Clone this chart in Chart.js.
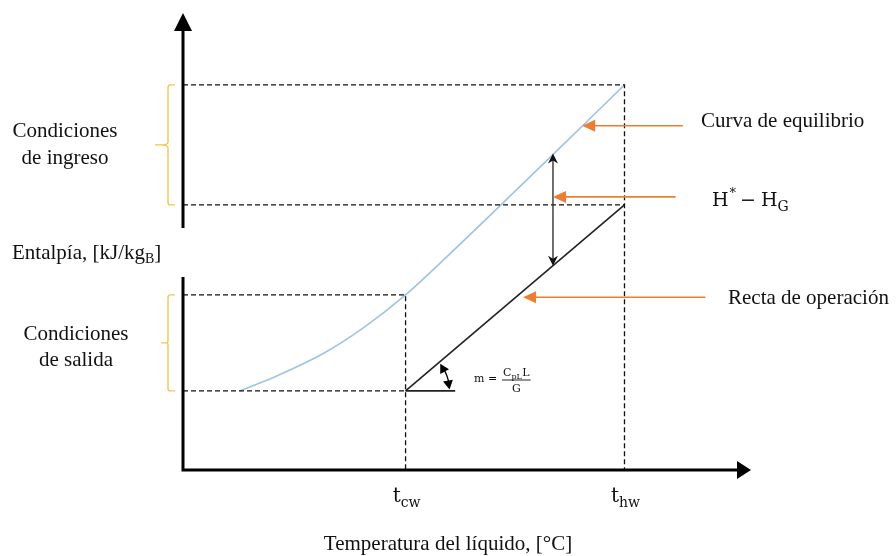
<!DOCTYPE html>
<html>
<head>
<meta charset="utf-8">
<script src="https://cdn.jsdelivr.net/npm/chart.js@4.4.1/dist/chart.umd.min.js"></script>
<style>
  html, body { margin: 0; padding: 0; background: #ffffff; }
  #wrap { width: 896px; height: 556px; }
</style>
</head>
<body>
<div id="wrap"><canvas id="diagram" width="896" height="556"></canvas></div>
<script>
// --- data (temperature in x, enthalpy in y; schematic units) ---
const tempValues = [30, 60];                       // t_cw, t_hw
const tempTickMain = ['t', 't'];
const tempTickSub = ['cw', 'hw'];
const enthalpyLevels = [16.8, 37.2, 56.3, 81.8];  // salida low/high, ingreso low/high

// equilibrium curve H* vs t
const eqCurveT = [7.3, 12.1, 18.9, 24.4, 30, 36, 43, 51, 60];
const eqCurveH = [16.8, 19.8, 24.9, 30.4, 37.2, 45.8, 56.2, 68.2, 81.8];

// operating line H_G vs t
const opLineT = [30, 60];
const opLineH = [16.8, 56.3];

// horizontal reference used to show the slope m
const slopeRefT = [30, 36.8];
const slopeRefH = [16.8, 16.8];

// driving force H* - H_G shown at one temperature
const forceT = 50.2;
const forceH = [43.4, 67.2];

// orange callouts: level, arrow tip, arrow tail
const calloutH = [73.1, 58.0, 36.7];
const calloutTipT = [54.2, 50.2, 46.1];
const calloutTailT = [68.0, 67.0, 71.1];

const xMin = -0.5, xMax = 77.2, yMin = 0, yMax = 96;

const SERIF = '"Liberation Serif", "Times New Roman", serif';
const MATH = '"DejaVu Serif", "Liberation Serif", serif';
const ORANGE = '#ED7D31';
const BLUE = '#9DC3E6';
const GOLD = '#F4C54A';

function pts(xs, ys) {
    return xs.map((x, i) => ({ x: x, y: ys[i] }));
}

function dashed(points) {
    return {
        data: points, showLine: true, borderColor: '#111', borderWidth: 1.3,
        borderDash: [5, 3], pointRadius: 0, clip: false
    };
}

// --- helpers for annotation drawing ---
function arrowHead(ctx, x, y, ang, len, half, color) {
    ctx.save();
    ctx.translate(x, y);
    ctx.rotate(ang);
    ctx.fillStyle = color;
    ctx.beginPath();
    ctx.moveTo(0, 0);
    ctx.lineTo(-len, -half);
    ctx.lineTo(-len * 0.7, 0);
    ctx.lineTo(-len, half);
    ctx.closePath();
    ctx.fill();
    ctx.restore();
}

function triHead(ctx, x, y, ang, len, half, color) {
    ctx.save();
    ctx.translate(x, y);
    ctx.rotate(ang);
    ctx.fillStyle = color;
    ctx.beginPath();
    ctx.moveTo(0, 0);
    ctx.lineTo(-len, -half);
    ctx.lineTo(-len, half);
    ctx.closePath();
    ctx.fill();
    ctx.restore();
}

function subText(ctx, main, sub, x, y, size, font, align) {
    ctx.font = size + 'px ' + font;
    const w1 = ctx.measureText(main).width;
    ctx.font = Math.round(size * 0.72) + 'px ' + font;
    const w2 = ctx.measureText(sub).width;
    let x0 = x;
    if (align === 'center') x0 = x - (w1 + w2) / 2;
    ctx.textAlign = 'left';
    ctx.textBaseline = 'alphabetic';
    ctx.font = size + 'px ' + font;
    ctx.fillText(main, x0, y);
    ctx.font = Math.round(size * 0.72) + 'px ' + font;
    ctx.fillText(sub, x0 + w1, y + size * 0.25);
    return x0 + w1 + w2;
}

function brace(ctx, x, yTop, yBot, tipX) {
    const yMid = (yTop + yBot) / 2;
    ctx.save();
    ctx.strokeStyle = GOLD;
    ctx.lineWidth = 1.4;
    ctx.beginPath();
    ctx.moveTo(x + 7, yTop);
    ctx.lineTo(x + 2, yTop);
    ctx.quadraticCurveTo(x, yTop, x, yTop + 3);
    ctx.lineTo(x, yMid - 3);
    ctx.quadraticCurveTo(x, yMid, tipX + 6, yMid);
    ctx.lineTo(tipX, yMid);
    ctx.moveTo(tipX + 6, yMid);
    ctx.quadraticCurveTo(x, yMid, x, yMid + 3);
    ctx.lineTo(x, yBot - 3);
    ctx.quadraticCurveTo(x, yBot, x + 2, yBot);
    ctx.lineTo(x + 7, yBot);
    ctx.stroke();
    ctx.restore();
}

const annotations = {
    id: 'annotations',
    afterDraw(chart) {
        const ctx = chart.ctx;
        const sx = chart.scales.x, sy = chart.scales.y;
        const X = v => sx.getPixelForValue(v);
        const Y = v => sy.getPixelForValue(v);
        const x0 = X(xMin), y0 = Y(yMin);

        ctx.save();
        // axes (y axis broken around its title)
        ctx.strokeStyle = '#000';
        ctx.lineWidth = 3;
        ctx.beginPath();
        ctx.moveTo(x0, y0 + 1.5);
        ctx.lineTo(x0, 277);
        ctx.moveTo(x0, 228);
        ctx.lineTo(x0, 28);
        ctx.moveTo(x0 - 1.5, y0);
        ctx.lineTo(X(xMax) - 10, y0);
        ctx.stroke();
        triHead(ctx, x0, 13, -Math.PI / 2, 18, 9, '#000');
        triHead(ctx, X(xMax) + 1, y0, 0, 14, 9, '#000');

        // driving force double arrow
        const fx = X(forceT);
        ctx.strokeStyle = '#333';
        ctx.lineWidth = 1.4;
        ctx.beginPath();
        ctx.moveTo(fx, Y(forceH[0]) - 4);
        ctx.lineTo(fx, Y(forceH[1]) + 4);
        ctx.stroke();
        arrowHead(ctx, fx, Y(forceH[1]), -Math.PI / 2, 10, 5, '#111');
        arrowHead(ctx, fx, Y(forceH[0]), Math.PI / 2, 10, 5, '#111');

        // orange callouts
        ctx.strokeStyle = ORANGE;
        ctx.lineWidth = 1.6;
        calloutH.forEach((h, i) => {
            const yy = Y(h);
            ctx.beginPath();
            ctx.moveTo(X(calloutTailT[i]), yy);
            ctx.lineTo(X(calloutTipT[i]) + 8, yy);
            ctx.stroke();
            triHead(ctx, X(calloutTipT[i]), yy, Math.PI, 13, 6, ORANGE);
        });

        // slope arc with two heads
        const cx = X(slopeRefT[0]), cy = Y(slopeRefH[0]);
        const ang = Math.atan2(Y(opLineH[0]) - Y(opLineH[1]), X(opLineT[1]) - X(opLineT[0]));
        const r = 44;
        const a1 = -ang + 0.04, a2 = -0.03;
        ctx.strokeStyle = '#000';
        ctx.lineWidth = 1.3;
        ctx.beginPath();
        ctx.arc(cx, cy, r, a1 + 0.12, a2 - 0.12);
        ctx.stroke();
        triHead(ctx, cx + r * Math.cos(a1), cy + r * Math.sin(a1), a1 - Math.PI / 2 + 0.15, 9, 5, '#000');
        triHead(ctx, cx + r * Math.cos(a2), cy + r * Math.sin(a2), a2 + Math.PI / 2 - 0.15, 9, 5, '#000');

        // slope label m = CpL L / G
        ctx.fillStyle = '#111';
        ctx.font = '11px ' + MATH;
        ctx.textBaseline = 'middle';
        ctx.textAlign = 'left';
        ctx.fillText('m =', 474, 379);
        let nx = subText(ctx, 'C', 'pL', 503, 376, 11, MATH, 'left');
        ctx.font = '11px ' + MATH;
        ctx.textBaseline = 'alphabetic';
        ctx.fillText('L', nx + 0.5, 376);
        nx += ctx.measureText('L').width + 0.5;
        ctx.strokeStyle = '#111';
        ctx.lineWidth = 0.9;
        ctx.beginPath();
        ctx.moveTo(502, 380);
        ctx.lineTo(nx + 1, 380);
        ctx.stroke();
        ctx.textAlign = 'center';
        ctx.fillText('G', (502 + nx + 1) / 2, 392);

        // braces
        brace(ctx, 168, Y(enthalpyLevels[3]), Y(enthalpyLevels[2]), 155);
        brace(ctx, 168, Y(enthalpyLevels[1]), Y(enthalpyLevels[0]), 161);

        // left labels
        ctx.fillStyle = '#111';
        ctx.font = '21px ' + SERIF;
        ctx.textAlign = 'center';
        ctx.textBaseline = 'alphabetic';
        ctx.fillText('Condiciones', 65, 137);
        ctx.fillText('de ingreso', 65, 164);
        ctx.fillText('Condiciones', 76, 340);
        ctx.fillText('de salida', 76, 366);
        ctx.textAlign = 'left';
        ctx.font = '21px ' + SERIF;
        const e1 = 'Entalpía, [kJ/kg';
        ctx.fillText(e1, 12, 259);
        let ex = 12 + ctx.measureText(e1).width;
        ctx.font = '14px ' + SERIF;
        ctx.fillText('B', ex, 263);
        ex += ctx.measureText('B').width;
        ctx.font = '21px ' + SERIF;
        ctx.fillText(']', ex, 259);

        // callout labels
        ctx.font = '21px ' + SERIF;
        ctx.fillText('Curva de equilibrio', 701, 127);
        ctx.fillText('Recta de operación', 728, 304);
        ctx.font = '19px ' + MATH;
        ctx.fillText('H', 712, 206);
        let hx = 712 + ctx.measureText('H').width + 1;
        ctx.font = '13px ' + MATH;
        ctx.fillText('*', hx, 197);
        hx += ctx.measureText('*').width + 4;
        ctx.font = '19px ' + MATH;
        ctx.fillText('−', hx, 206);
        hx += ctx.measureText('−').width + 5;
        subText(ctx, 'H', 'G', hx, 206, 19, MATH, 'left');

        // x tick labels
        ctx.fillStyle = '#111';
        tempValues.forEach((t, i) => {
            subText(ctx, tempTickMain[i], tempTickSub[i], X(t) + 1, 502, 20, MATH, 'center');
        });

        // x title
        ctx.font = '21px ' + SERIF;
        ctx.textAlign = 'center';
        ctx.textBaseline = 'alphabetic';
        ctx.fillText('Temperatura del líquido, [°C]', 448, 550);
        ctx.restore();
    }
};

const [tcw, thw] = tempValues;
const [hOutLo, hOutHi, hInLo, hInHi] = enthalpyLevels;

new Chart(document.getElementById('diagram'), {
    type: 'scatter',
    data: {
        datasets: [
            dashed([{ x: xMin, y: hInHi }, { x: thw, y: hInHi }, { x: thw, y: 0 }]),
            dashed([{ x: xMin, y: hInLo }, { x: thw, y: hInLo }]),
            dashed([{ x: xMin, y: hOutHi }, { x: tcw, y: hOutHi }, { x: tcw, y: 0 }]),
            dashed([{ x: xMin, y: hOutLo }, { x: tcw, y: hOutLo }]),
            {
                // equilibrium curve
                data: pts(eqCurveT, eqCurveH), showLine: true,
                borderColor: BLUE, borderWidth: 1.6, pointRadius: 0,
                cubicInterpolationMode: 'monotone', clip: false
            },
            {
                // operating line
                data: pts(opLineT, opLineH), showLine: true,
                borderColor: '#222', borderWidth: 1.6, pointRadius: 0, clip: false
            },
            {
                data: pts(slopeRefT, slopeRefH), showLine: true,
                borderColor: '#222', borderWidth: 1.6, pointRadius: 0, clip: false
            }
        ]
    },
    options: {
        responsive: false,
        animation: false,
        layout: { autoPadding: false, padding: { left: 183, right: 146, top: 18, bottom: 86 } },
        plugins: { legend: { display: false }, tooltip: { enabled: false } },
        scales: {
            x: { type: 'linear', min: xMin, max: xMax, display: false },
            y: { type: 'linear', min: yMin, max: yMax, display: false }
        }
    },
    plugins: [annotations]
});
</script>
</body>
</html>
